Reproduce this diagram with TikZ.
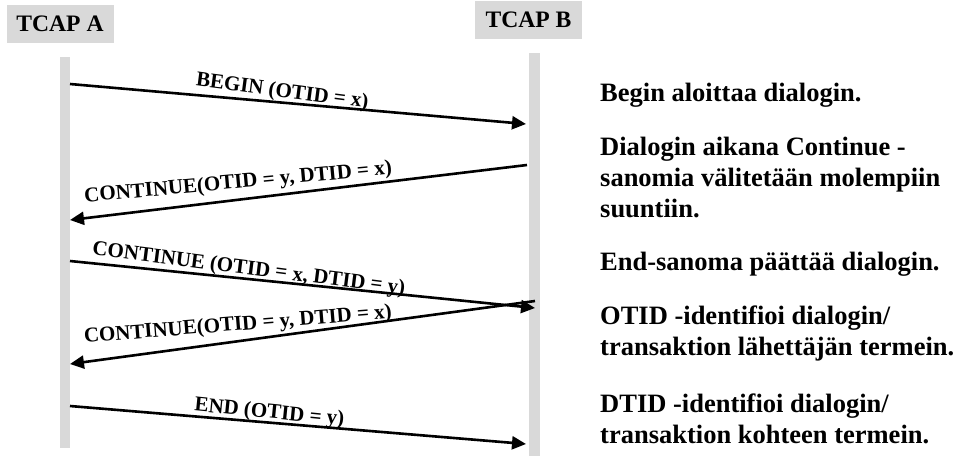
\documentclass[tikz,border=0pt]{standalone}
\usepackage{fontspec}
\setmainfont{Liberation Serif}
\usetikzlibrary{arrows.meta}
\definecolor{tcapgray}{RGB}{217,217,217}

\begin{document}
\begin{tikzpicture}[x=1pt,y=-1pt,>={Triangle[length=14pt,width=13pt]},
      head/.style={fill=tcapgray,minimum width=107pt,minimum height=38pt,
        inner sep=0pt,font=\bfseries\fontsize{23.6}{28}\selectfont},
      life/.style={fill=tcapgray},
      msg/.style={->,line width=2.6pt},
      lbl/.style={anchor=base,inner sep=0pt,
        font=\bfseries\fontsize{21}{25}\selectfont},
      note/.style={anchor=base west,align=left,inner sep=0pt,
        font=\bfseries\fontsize{26.5}{31}\selectfont}]
      \useasboundingbox (0,0) rectangle (959,456);

      % lifelines
      \fill[life] (60,57) rectangle (70,448);
      \fill[life] (529,53) rectangle (540,456);
      \node[head] (tcapA) at (60,24) {TCAP A};
      \node[head] (tcapB) at (528.5,20) {TCAP B};

      \coordinate (a1) at (70,84);   \coordinate (b1) at (526,124);
      \coordinate (b2) at (527,165); \coordinate (a2) at (70,220);
      \coordinate (a3) at (70,261);  \coordinate (b3) at (535,308);
      \coordinate (b4) at (535,301); \coordinate (a4) at (70,364);
      \coordinate (a5) at (70,406);  \coordinate (b5) at (526,444);

      \path[msg]
      (a1) edge node [lbl,pos=.464,yshift=5.5pt,rotate=-7.4] {BEGIN (OTID = x)} (b1)
      (b2) edge node [lbl,pos=.631,yshift=11.4pt,rotate=5.2] {CONTINUE(OTID = y, DTID = x)} (a2)
      (a3) edge node [lbl,pos=.383,yshift=4.5pt,rotate=-7.2] {CONTINUE (OTID = x, DTID = y)} (b3)
      (b4) edge node [lbl,pos=.638,yshift=10.8pt,rotate=4.6] {CONTINUE(OTID = y, DTID = x)} (a4)
      (a5) edge node [lbl,pos=.436,yshift=4.5pt,rotate=-5.7] {END (OTID = y)} (b5)
      ;

      % explanations (base = last line)
      \node[note] (n1) at (600,101) {Begin aloittaa dialogin.};
      \node[note] (n2) at (600,217) {Dialogin aikana Continue -\\sanomia välitetään molempiin\\suuntiin.};
      \node[note] (n3) at (600,270) {End-sanoma päättää dialogin.};
      \node[note] (n4) at (600,355) {OTID -identifioi dialogin/\\transaktion lähettäjän termein.};
      \node[note] (n5) at (600,443) {DTID -identifioi dialogin/\\transaktion kohteen termein.};
\end{tikzpicture}
\end{document}
